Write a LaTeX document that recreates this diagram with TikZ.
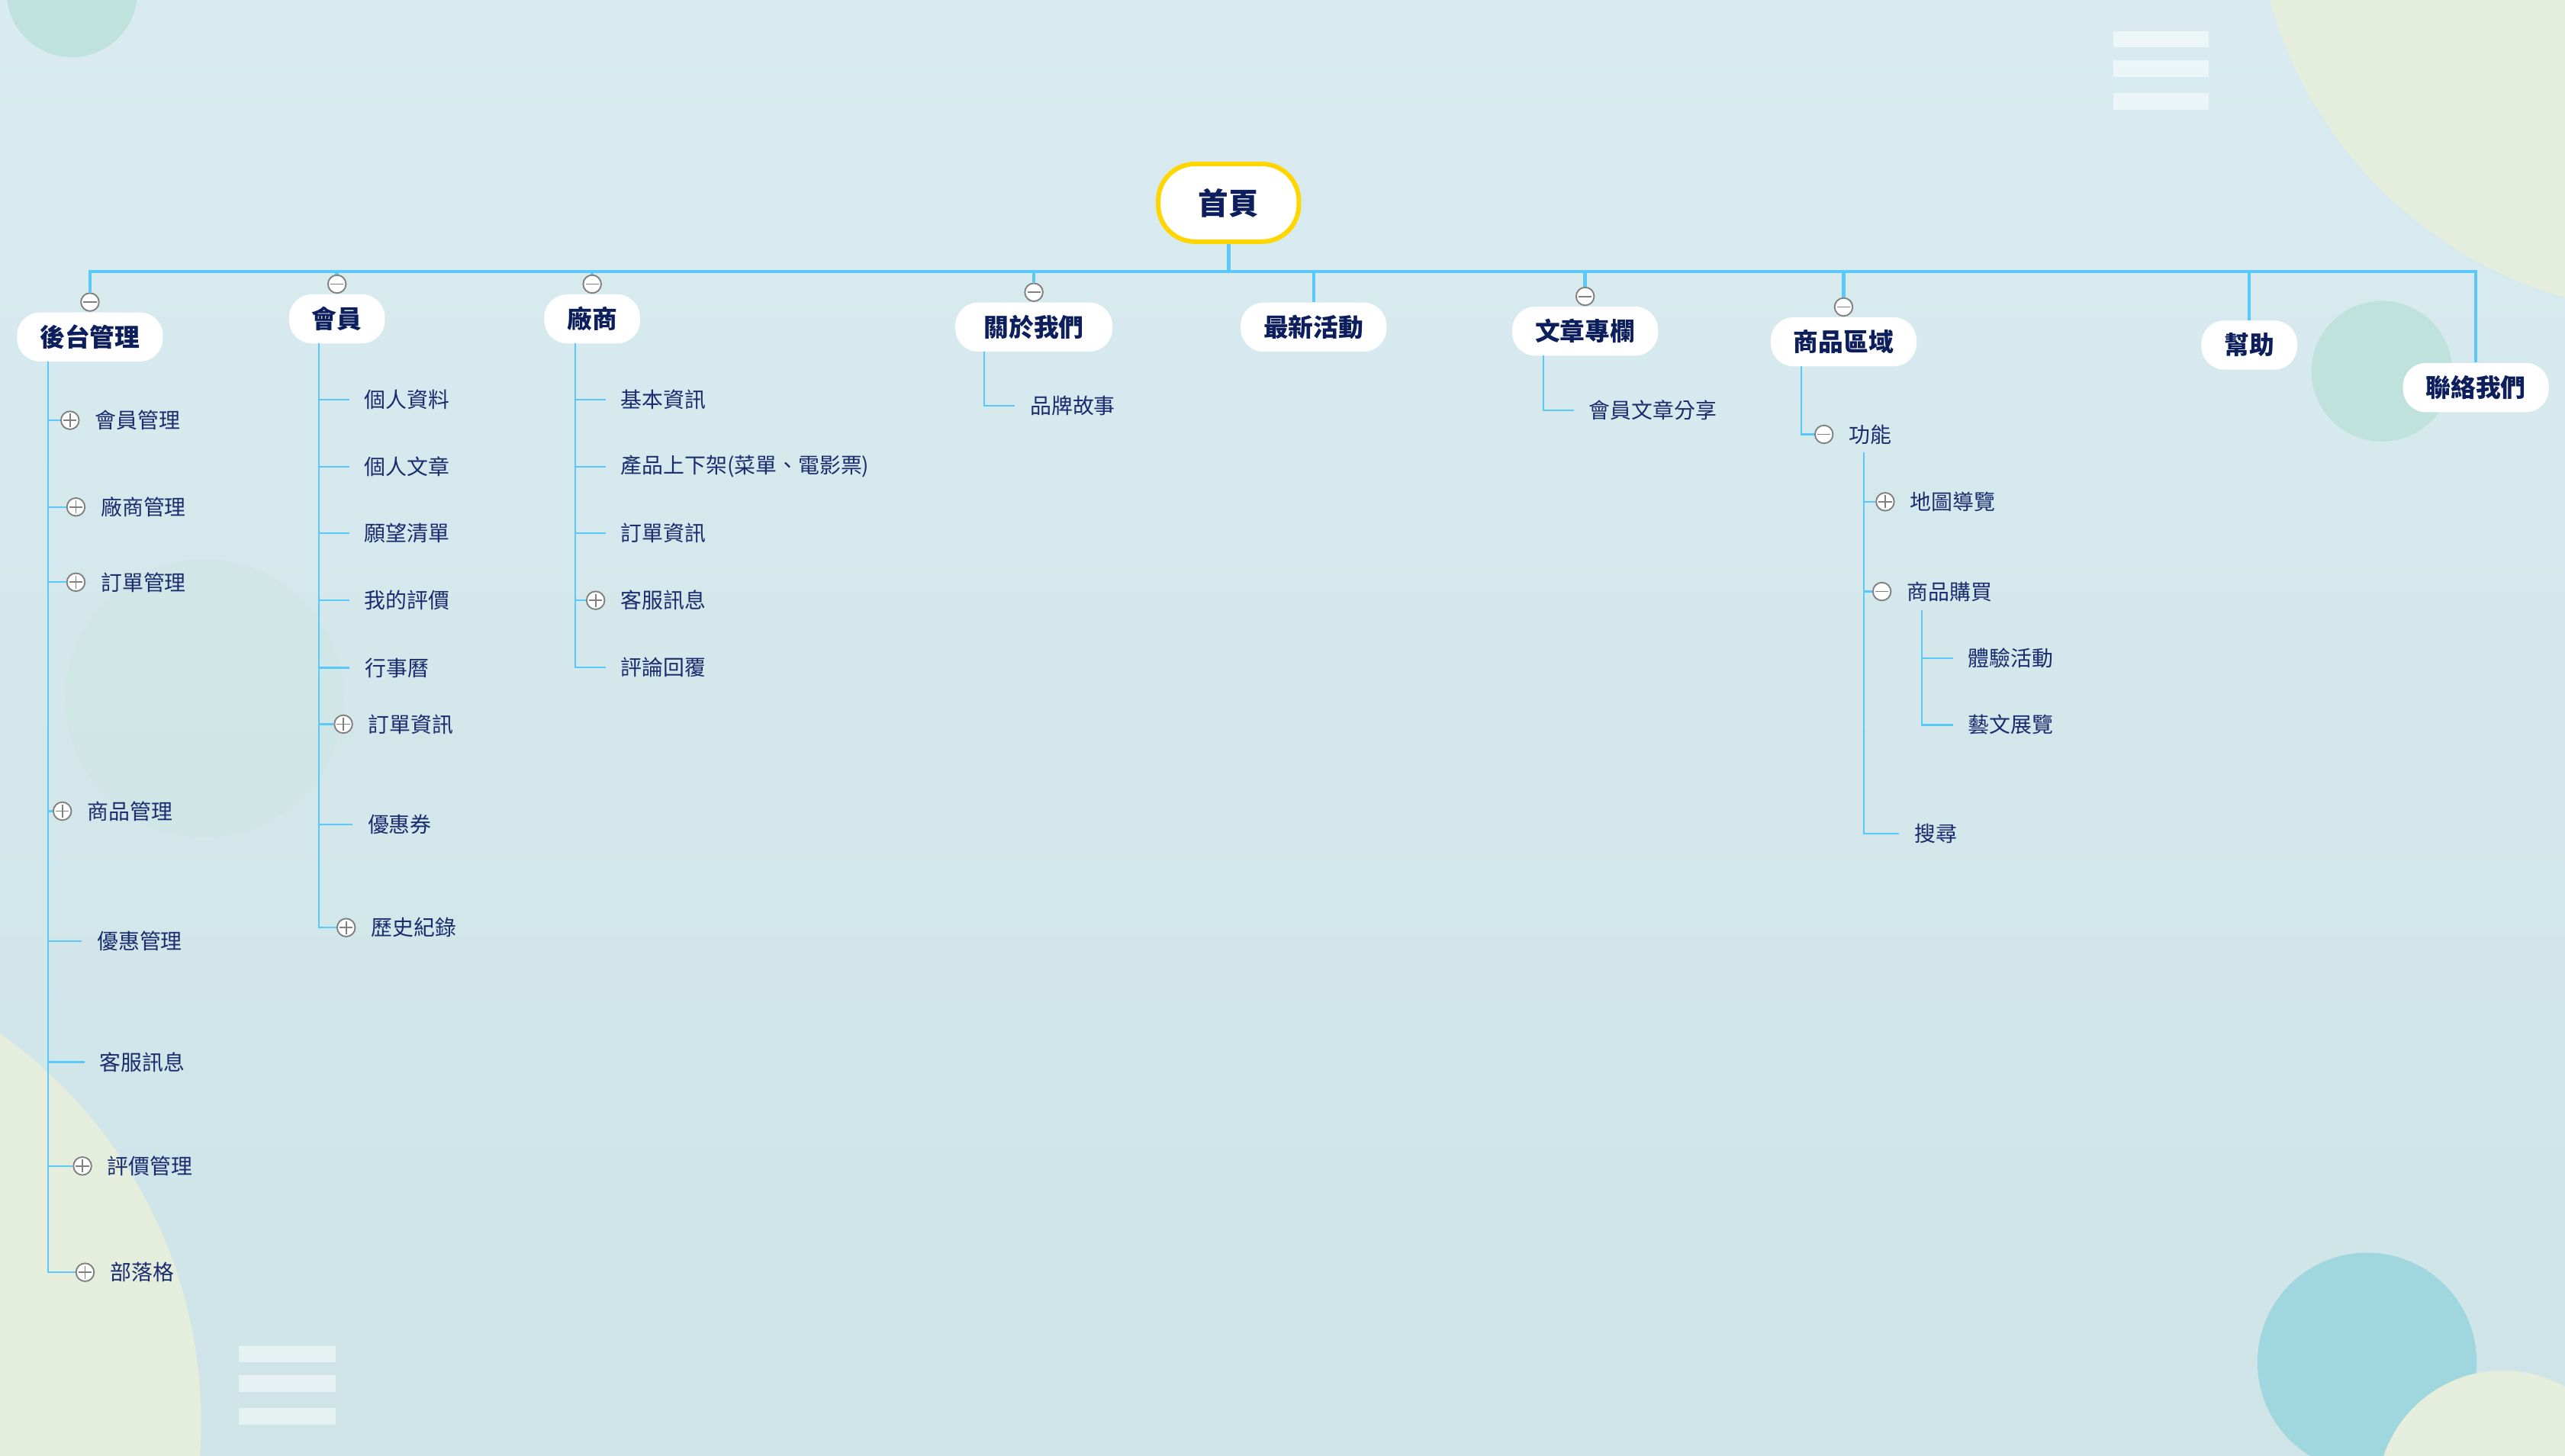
\documentclass[tikz,border=0pt]{standalone}
\usepackage{fontspec}
\setmainfont{Noto Sans CJK TC}
\usetikzlibrary{positioning}

\definecolor{bgtop}{RGB}{217,235,240}
\definecolor{bgbot}{RGB}{206,228,231}
\definecolor{linkblue}{RGB}{90,200,248}
\definecolor{navy}{RGB}{24,44,110}
\definecolor{darknavy}{RGB}{12,30,92}
\definecolor{tglgray}{RGB}{128,128,128}
\definecolor{homeyellow}{RGB}{255,214,0}
\definecolor{paleyel}{RGB}{229,237,221}
\definecolor{mint}{RGB}{192,226,220}
\definecolor{faint}{RGB}{208,230,229}
\definecolor{dotteal}{RGB}{160,214,222}

\begin{document}
\begin{tikzpicture}[x=0.02cm,y=-0.02cm,
    main/.style={fill=white,rounded corners=0.28cm,minimum height=0.6cm,inner xsep=0.28cm,inner ysep=0pt,text=darknavy,font=\bfseries\fontsize{8.7}{10}\selectfont},
    home/.style={main,draw=homeyellow,line width=1.6pt,minimum width=1.72cm,minimum height=0.95cm,rounded corners=0.45cm,font=\bfseries\fontsize{10.5}{12}\selectfont},
    leaf/.style={anchor=west,inner xsep=0.18cm,inner ysep=1pt,text=navy,font=\fontsize{7.4}{9}\selectfont},
    tgl/.style={circle,draw=tglgray,fill=white,line width=0.5pt,minimum size=0.22cm,inner sep=0pt},
    tplus/.style={tgl,path picture={\draw[tglgray,line width=0.5pt] ([xshift=-0.08cm]path picture bounding box.center) -- ([xshift=0.08cm]path picture bounding box.center) ([yshift=-0.08cm]path picture bounding box.center) -- ([yshift=0.08cm]path picture bounding box.center);}},
    tminus/.style={tgl,path picture={\draw[tglgray,line width=0.5pt] ([xshift=-0.08cm]path picture bounding box.center) -- ([xshift=0.08cm]path picture bounding box.center);}},
    bus/.style={draw=linkblue,line width=1.2pt},
    sub/.style={draw=linkblue,line width=0.6pt}]

    \useasboundingbox (0,0) rectangle (1568,890);

    % background
    \begin{scope}
        \clip (0,0) rectangle (1568,890);
        \shade[top color=bgtop,bottom color=bgbot] (0,0) rectangle (1568,890);
        \fill[mint] (44,-5) circle[radius=0.8cm];
        \fill[paleyel] (1640,-70) circle[radius=5.24cm];
        \fill[paleyel] (-169,870) circle[radius=5.84cm];
        \fill[faint,opacity=0.7] (125,427) circle[radius=1.7cm];
        \fill[mint] (1456,227) circle[radius=0.86cm];
        \fill[dotteal] (1447,833) circle[radius=1.34cm];
        \fill[paleyel] (1530,915) circle[radius=1.54cm];
        \fill[white,opacity=0.5] (1292,19) rectangle (1350,29);
        \fill[white,opacity=0.5] (1292,37) rectangle (1350,47);
        \fill[white,opacity=0.5] (1292,57) rectangle (1350,67);
        \fill[white,opacity=0.5] (146,823) rectangle (205,833);
        \fill[white,opacity=0.5] (146,841) rectangle (205,851);
        \fill[white,opacity=0.5] (146,861) rectangle (205,871);
    \end{scope}

    \node (home) at (751,124) [home] {首頁};

    \node (hou) at (55,206) [main] {後台管理};
    \node (huiyuan) at (206,195) [main] {會員};
    \node (chang) at (362,195) [main] {廠商};
    \node (guanyu) at (632,200) [main,minimum width=1.92cm] {關於我們};
    \node (zuixin) at (803,200) [main] {最新活動};
    \node (wenzhang) at (969,202.5) [main] {文章專欄};
    \node (shangpin) at (1127,209) [main] {商品區域};
    \node (bangzhu) at (1375,211) [main] {幫助};
    \node (lianluo) at (1513.5,237) [main] {聯絡我們};

    \node (houtgl) [tminus,above=0pt of hou] {};
    \node (huiyuantgl) [tminus,above=0pt of huiyuan] {};
    \node (changtgl) [tminus,above=0pt of chang] {};
    \node (guanyutgl) [tminus,above=0pt of guanyu] {};
    \node (wenzhangtgl) [tminus,above=0pt of wenzhang] {};
    \node (shangpintgl) [tminus,above=0pt of shangpin] {};

    \coordinate (busR) at (1513.5,166);
    \draw[bus] (home.south) -- (home.south |- busR);
    \draw[bus] (houtgl.north) |- (busR) -- (lianluo.north);
    \draw[bus] (huiyuantgl.north |- busR) -- (huiyuantgl.north);
    \draw[bus] (changtgl.north |- busR) -- (changtgl.north);
    \draw[bus] (guanyutgl.north |- busR) -- (guanyutgl.north);
    \draw[bus] (zuixin.north |- busR) -- (zuixin.north);
    \draw[bus] (wenzhangtgl.north |- busR) -- (wenzhangtgl.north);
    \draw[bus] (shangpintgl.north |- busR) -- (shangpintgl.north);
    \draw[bus] (bangzhu.north |- busR) -- (bangzhu.north);

    % 後台管理
    \coordinate (houtop) at (29.3,221);
    \node (hou1t) at (42.8,257) [tplus] {};
    \node (hou1) [leaf,right=0pt of hou1t] {會員管理};
    \node (hou2t) at (46.4,310) [tplus] {};
    \node (hou2) [leaf,right=0pt of hou2t] {廠商管理};
    \node (hou3t) at (46.4,356) [tplus] {};
    \node (hou3) [leaf,right=0pt of hou3t] {訂單管理};
    \node (hou4t) at (38.1,496) [tplus] {};
    \node (hou4) [leaf,right=0pt of hou4t] {商品管理};
    \node (hou5) at (50,575.6) [leaf] {優惠管理};
    \node (hou6) at (51.6,649.4) [leaf] {客服訊息};
    \node (hou7t) at (50.4,713) [tplus] {};
    \node (hou7) [leaf,right=0pt of hou7t] {評價管理};
    \node (hou8t) at (52,778) [tplus] {};
    \node (hou8) [leaf,right=0pt of hou8t] {部落格};

    \draw[sub] (houtop) |- (hou8t.west);
    \draw[sub] (houtop |- hou1t) -- (hou1t.west);
    \draw[sub] (houtop |- hou2t) -- (hou2t.west);
    \draw[sub] (houtop |- hou3t) -- (hou3t.west);
    \draw[sub] (houtop |- hou4t) -- (hou4t.west);
    \draw[sub] (houtop |- hou5.west) -- (hou5.west);
    \draw[sub] (houtop |- hou6.west) -- (hou6.west);
    \draw[sub] (houtop |- hou7t) -- (hou7t.west);

    % 會員
    \coordinate (hytop) at (194.9,210);
    \node (hy1) at (213.5,244.3) [leaf] {個人資料};
    \node (hy2) at (213.5,285.3) [leaf] {個人文章};
    \node (hy3) at (213.5,326.1) [leaf] {願望清單};
    \node (hy4) at (213.5,367.1) [leaf] {我的評價};
    \node (hy5) at (213.8,408.3) [leaf] {行事曆};
    \node (hy6t) at (209.9,442.8) [tplus] {};
    \node (hy6) [leaf,right=0pt of hy6t] {訂單資訊};
    \node (hy7) at (215.5,504) [leaf] {優惠券};
    \node (hy8t) at (211.6,567.2) [tplus] {};
    \node (hy8) [leaf,right=0pt of hy8t] {歷史紀錄};

    \draw[sub] (hytop) |- (hy8t.west);
    \draw[sub] (hytop |- hy1.west) -- (hy1.west);
    \draw[sub] (hytop |- hy2.west) -- (hy2.west);
    \draw[sub] (hytop |- hy3.west) -- (hy3.west);
    \draw[sub] (hytop |- hy4.west) -- (hy4.west);
    \draw[sub] (hytop |- hy5.west) -- (hy5.west);
    \draw[sub] (hytop |- hy6t) -- (hy6t.west);
    \draw[sub] (hytop |- hy7.west) -- (hy7.west);

    % 廠商
    \coordinate (cstop) at (351.6,210);
    \node (cs1) at (370.2,244.3) [leaf] {基本資訊};
    \node (cs2) at (370.2,285.3) [leaf] {產品上下架(菜單、電影票)};
    \node (cs3) at (370.2,326.1) [leaf] {訂單資訊};
    \node (cs4t) at (364.1,367.1) [tplus] {};
    \node (cs4) [leaf,right=0pt of cs4t] {客服訊息};
    \node (cs5) at (370.2,408) [leaf] {評論回覆};

    \draw[sub] (cstop) |- (cs5.west);
    \draw[sub] (cstop |- cs1.west) -- (cs1.west);
    \draw[sub] (cstop |- cs2.west) -- (cs2.west);
    \draw[sub] (cstop |- cs3.west) -- (cs3.west);
    \draw[sub] (cstop |- cs4t) -- (cs4t.west);

    % 關於我們, 文章專欄
    \coordinate (gytop) at (601.7,215);
    \node (gy1) at (620.4,248) [leaf] {品牌故事};
    \draw[sub] (gytop) |- (gy1.west);

    \coordinate (wztop) at (943.5,217.5);
    \node (wz1) at (962,251) [leaf] {會員文章分享};
    \draw[sub] (wztop) |- (wz1.west);

    % 商品區域
    \coordinate (sptop) at (1101.2,224);
    \node (sp1t) at (1115,265.6) [tminus] {};
    \node (sp1) [leaf,right=0pt of sp1t] {功能};
    \draw[sub] (sptop) |- (sp1t.west);

    \coordinate (gntop) at (1139.5,276.4);
    \node (gn1t) at (1152.4,306.8) [tplus] {};
    \node (gn1) [leaf,right=0pt of gn1t] {地圖導覽};
    \node (gn2t) at (1150.4,361.7) [tminus] {};
    \node (gn2) [leaf,right=0pt of gn2t] {商品購買};
    \node (gn3) at (1161,509.8) [leaf] {搜尋};
    \draw[sub] (gntop) |- (gn3.west);
    \draw[sub] (gntop |- gn1t) -- (gn1t.west);
    \draw[sub] (gntop |- gn2t) -- (gn2t.west);

    \coordinate (gmtop) at (1174.8,373);
    \node (gm1) at (1193.8,402.4) [leaf] {體驗活動};
    \node (gm2) at (1193.8,443.3) [leaf] {藝文展覽};
    \draw[sub] (gmtop) |- (gm2.west);
    \draw[sub] (gmtop |- gm1.west) -- (gm1.west);
\end{tikzpicture}
\end{document}
